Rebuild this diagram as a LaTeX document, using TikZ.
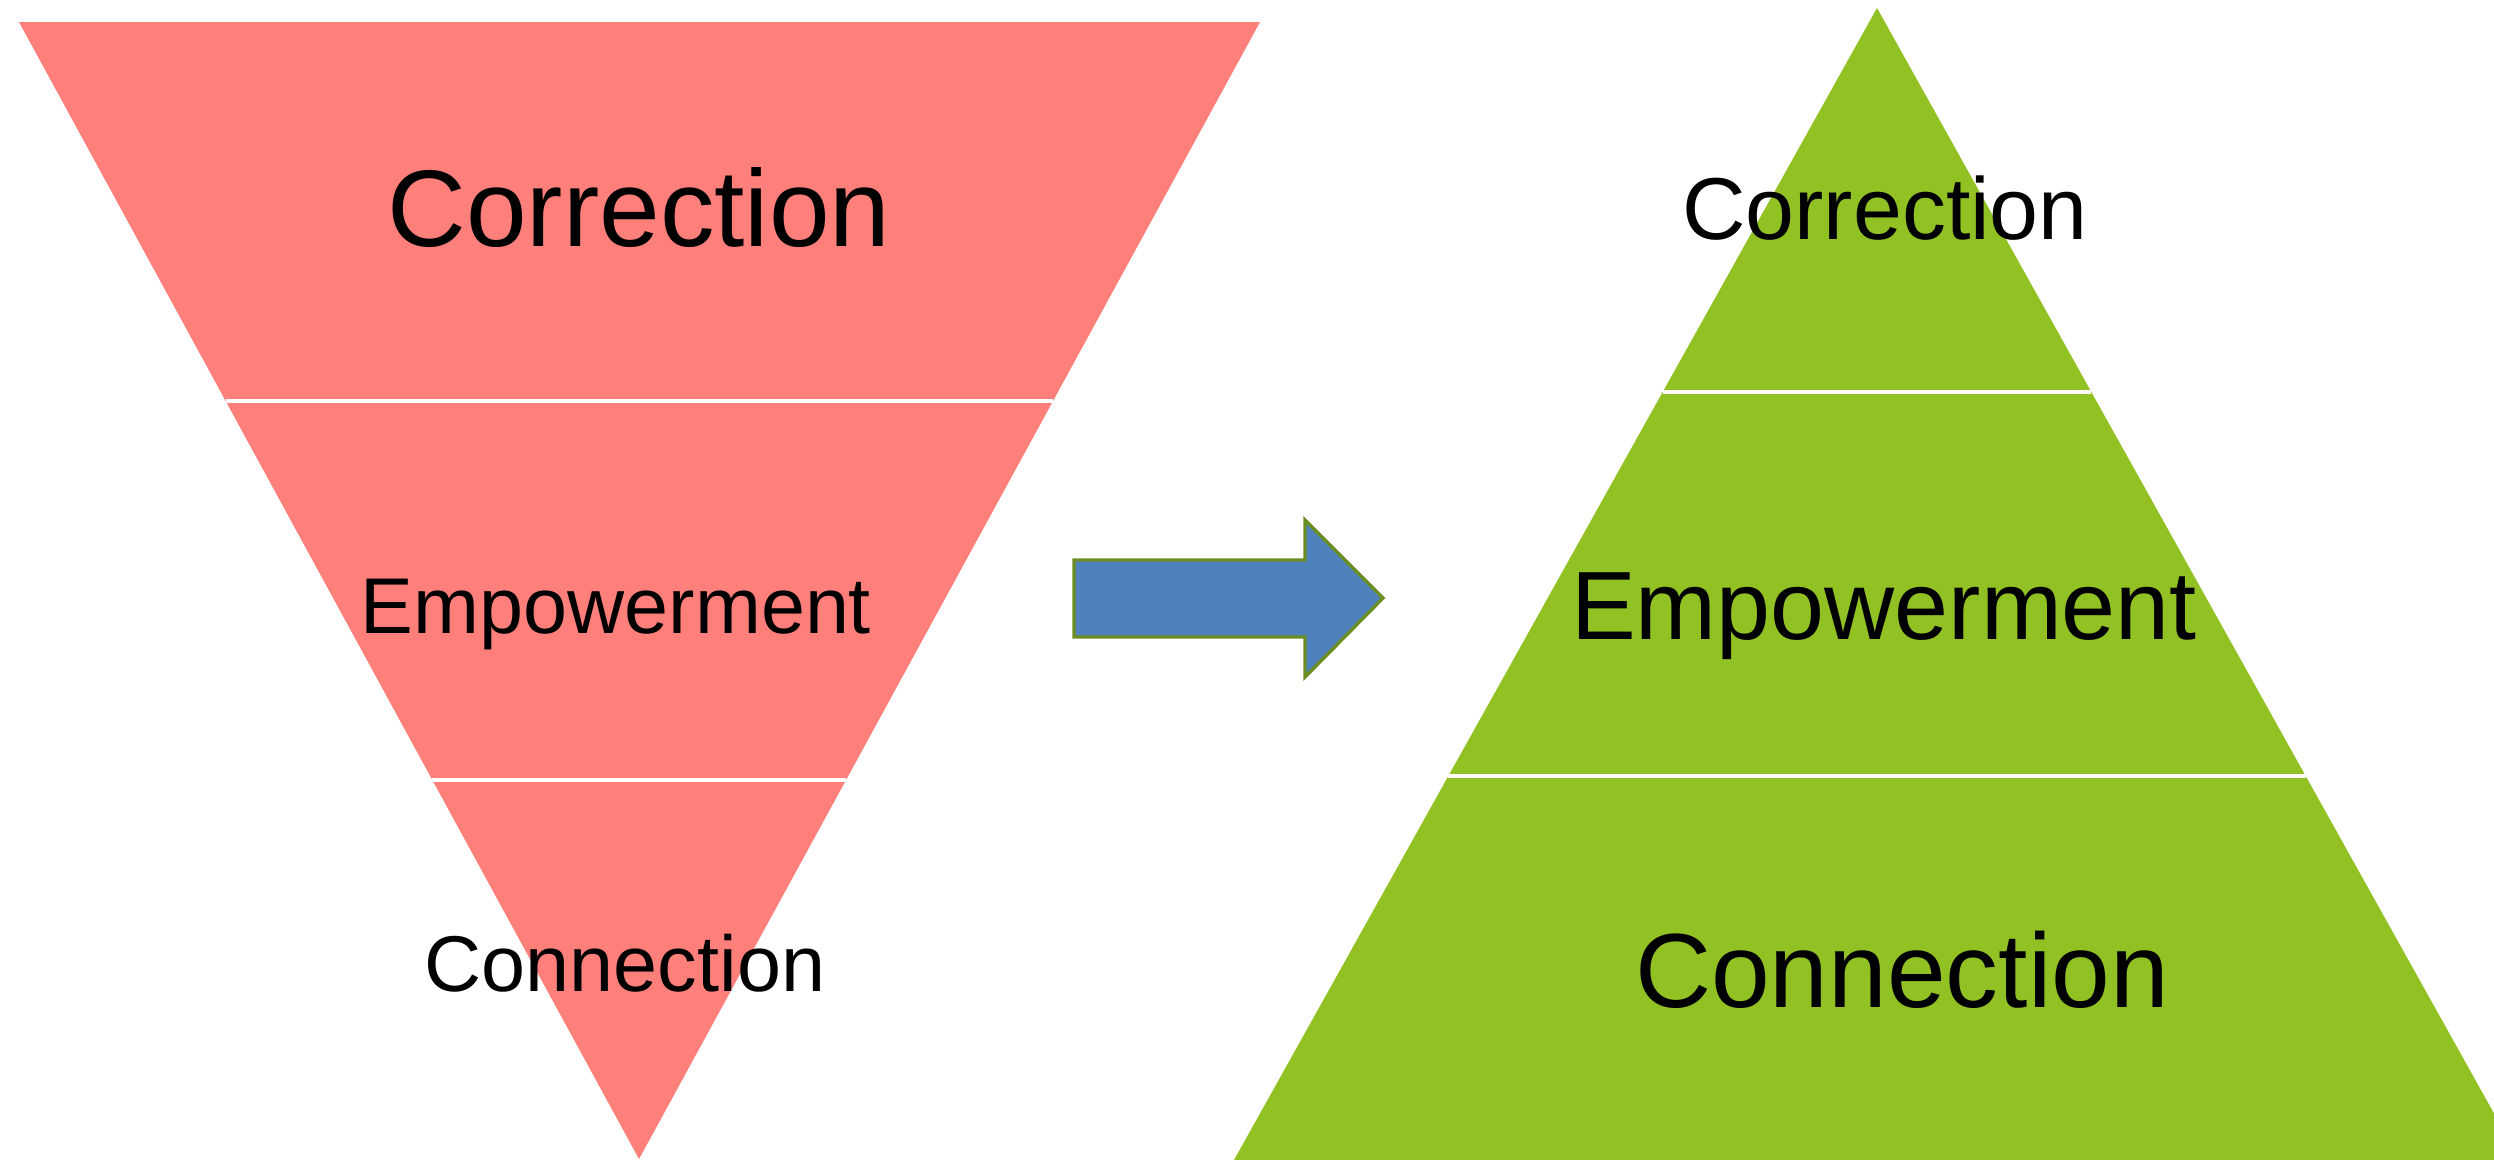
\documentclass[tikz,border=0pt]{standalone}
\usepackage{fontspec}
\setmainfont{Liberation Sans}
\usetikzlibrary{calc}
\definecolor{FunnelFill}{HTML}{FF7F7B}
\definecolor{PyramidFill}{HTML}{92C123}
\definecolor{ArrowFill}{HTML}{4F81BD}
\definecolor{ArrowEdge}{HTML}{6B8E23}
\tikzset{
  figure/.style={x=0.01cm,y=-0.01cm,text=black},
  tier/.style={anchor=base,inner sep=0pt},
  divider/.style={draw=white,line width=1.2pt},
  blockarrow/.style={fill=ArrowFill,draw=ArrowEdge,line width=0.95pt,line join=miter},
}
\newcommand{\tiersize}[1]{\fontsize{#1}{1.2\dimexpr#1pt\relax}\selectfont}

\begin{document}
\begin{tikzpicture}[figure]
  \clip (0,0) rectangle (2494,1159);

  % inverted pyramid, cut in thirds
  \coordinate (ftl) at (19,22);
  \coordinate (ftr) at (1260,22);
  \coordinate (ftip) at (639,1159);
  \fill[FunnelFill] (ftl) -- (ftr) -- (ftip) -- cycle;
  \draw[divider] ($(ftl)!1/3!(ftip)$) -- ($(ftr)!1/3!(ftip)$);
  \draw[divider] ($(ftl)!2/3!(ftip)$) -- ($(ftr)!2/3!(ftip)$);

  % upright pyramid, base runs off the page
  \coordinate (papex) at (1877,8);
  \coordinate (pbl) at (1234,1160);
  \coordinate (pbr) at (2520,1160);
  \fill[PyramidFill] (papex) -- (pbr) -- (pbl) -- cycle;
  \draw[divider] ($(papex)!1/3!(pbl)$) -- ($(papex)!1/3!(pbr)$);
  \draw[divider] ($(papex)!2/3!(pbl)$) -- ($(papex)!2/3!(pbr)$);

  % block arrow between the two
  \coordinate (atip) at (1383,598);
  \draw[blockarrow] (1074,560) -- (1305,560) -- (1305,520) -- (atip)
    -- (1305,677) -- (1305,637) -- (1074,637) -- cycle;

  % labels
  \node[tier,font=\tiersize{31}] (fcorr) at (639,246) {Correction};
  \node[tier,font=\tiersize{22.5}] (femp) at (616,633) {Empowerment};
  \node[tier,font=\tiersize{22.5}] (fconn) at (625,991) {Connection};

  \node[tier,font=\tiersize{25}] (pcorr) at (1885,239) {Correction};
  \node[tier,font=\tiersize{27.6}] (pemp) at (1884,639) {Empowerment};
  \node[tier,font=\tiersize{30}] (pconn) at (1902,1007) {Connection};
\end{tikzpicture}
\end{document}
